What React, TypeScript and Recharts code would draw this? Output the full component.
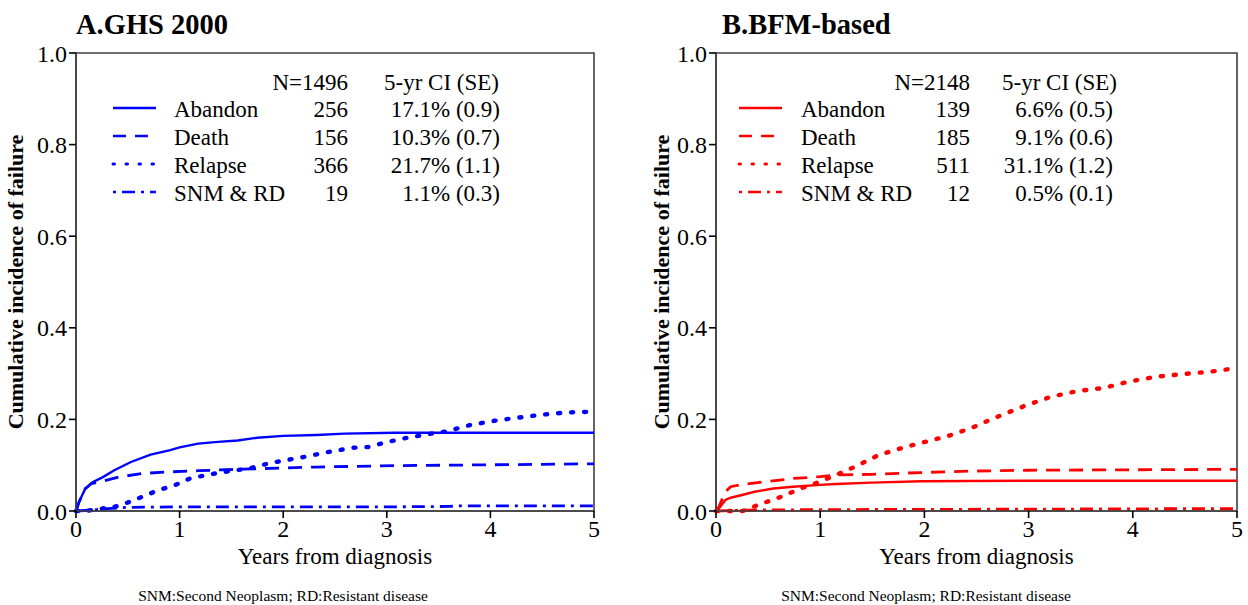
import React from "react";
import { LineChart, Line, XAxis, YAxis, ReferenceArea, Legend } from "recharts";

type Pt = { t: number; v: number };

const FONT = '"Liberation Serif", "Times New Roman", serif';
const FRAME = "#404040";

const YEAR_TICKS = [0, 1, 2, 3, 4, 5];
const CI_TICKS = [0, 0.2, 0.4, 0.6, 0.8, 1.0];
const EVENTS = ["Abandon", "Death", "Relapse", "SNM & RD"];

// GHS 2000 protocol
const GHS_N = 1496;
const GHS_COUNTS = [256, 156, 366, 19];
const GHS_CI5 = [17.1, 10.3, 21.7, 1.1];
const GHS_SE = [0.9, 0.7, 1.1, 0.3];

const GHS_ABANDON = [
  [0, 0], [0.03, 0.02], [0.09, 0.049], [0.16, 0.063], [0.26, 0.074], [0.37, 0.089],
  [0.53, 0.107], [0.72, 0.123], [0.91, 0.133], [1.0, 0.139], [1.18, 0.147],
  [1.37, 0.151], [1.56, 0.154], [1.75, 0.16], [2.0, 0.164], [2.32, 0.166],
  [2.59, 0.169], [3.08, 0.171], [5, 0.171],
];
const GHS_DEATH = [
  [0, 0], [0.03, 0.02], [0.09, 0.049], [0.15, 0.06], [0.26, 0.065], [0.41, 0.074],
  [0.64, 0.082], [0.87, 0.085], [1.18, 0.088], [1.56, 0.091], [2.0, 0.094],
  [2.32, 0.096], [3.08, 0.099], [4.04, 0.101], [5, 0.103],
];
const GHS_RELAPSE = [
  [0, 0], [0.1, 0], [0.15, 0.002], [0.3, 0.007], [0.41, 0.011], [0.53, 0.021],
  [0.64, 0.031], [0.79, 0.045], [0.95, 0.056], [1.1, 0.071], [1.29, 0.08],
  [1.48, 0.087], [1.67, 0.093], [1.86, 0.104], [2.05, 0.112], [2.2, 0.118],
  [2.44, 0.129], [2.67, 0.138], [2.84, 0.14], [2.97, 0.149], [3.2, 0.16],
  [3.43, 0.169], [3.58, 0.174], [3.81, 0.188], [4.04, 0.197], [4.27, 0.204],
  [4.53, 0.211], [4.73, 0.215], [5, 0.217],
];
const GHS_SNM = [
  [0, 0], [0.15, 0.002], [0.3, 0.005], [0.5, 0.008], [1.0, 0.009], [2.0, 0.009],
  [3.0, 0.009], [3.6, 0.01], [3.7, 0.011], [5, 0.011],
];

// BFM-based protocol
const BFM_N = 2148;
const BFM_COUNTS = [139, 185, 511, 12];
const BFM_CI5 = [6.6, 9.1, 31.1, 0.5];
const BFM_SE = [0.5, 0.6, 1.2, 0.1];

const BFM_ABANDON = [
  [0, 0], [0.03, 0.006], [0.09, 0.024], [0.14, 0.029], [0.25, 0.035], [0.37, 0.042],
  [0.55, 0.049], [0.74, 0.053], [1.0, 0.057], [1.15, 0.059], [1.49, 0.062],
  [1.97, 0.065], [2.98, 0.066], [5, 0.066],
];
const BFM_DEATH = [
  [0, 0], [0.03, 0.01], [0.09, 0.042], [0.14, 0.053], [0.25, 0.058], [0.48, 0.064],
  [0.74, 0.071], [1.0, 0.075], [1.19, 0.079], [1.49, 0.08], [1.97, 0.084],
  [2.42, 0.087], [2.98, 0.089], [5, 0.091],
];
const BFM_RELAPSE = [
  [0, 0], [0.25, 0], [0.29, 0.002], [0.4, 0.013], [0.59, 0.028], [0.81, 0.049],
  [1.0, 0.064], [1.11, 0.075], [1.26, 0.089], [1.38, 0.102], [1.56, 0.122],
  [1.79, 0.138], [2.01, 0.151], [2.23, 0.164], [2.46, 0.182], [2.68, 0.204],
  [2.98, 0.231], [3.21, 0.249], [3.47, 0.262], [3.73, 0.269], [3.95, 0.282],
  [4.22, 0.293], [4.48, 0.299], [4.74, 0.304], [4.93, 0.31], [5, 0.311],
];
const BFM_SNM = [
  [0, 0], [0.3, 0.002], [1.0, 0.003], [3.0, 0.004], [4.5, 0.005], [5, 0.005],
];

const toPts = (rows: number[][]): Pt[] => rows.map(([t, v]) => ({ t, v }));

// solid, dashed, dotted, dash-dot
const STROKES = [
  { dash: undefined, width: 2.4, cap: "butt" },
  { dash: "14 9", width: 2.8, cap: "butt" },
  { dash: "2 11", width: 4.4, cap: "round" },
  { dash: "13 6 3 6", width: 2.8, cap: "butt" },
] as const;
const SAMPLE_DASH = [undefined, "13 9", "1.5 11.5", "13 6 3 6"];
const SAMPLE_OFFSET = [0, 0, 0, 19];

type Cols = {
  sample: number;
  label: number;
  count: number;
  ci: number;
  head: number;
};

type PanelProps = {
  title: string;
  titleX: number;
  yLabelX: number;
  width: number;
  marginRight: number;
  color: string;
  n: number;
  counts: number[];
  ci5: number[];
  se: number[];
  series: Pt[][];
  cols: Cols;
  noteX: number;
};

function CiTable({ color, n, counts, ci5, se, cols, width }: any) {
  const txt = { fontFamily: FONT, fontSize: 23, fill: "#000" };
  return (
    <svg width={width} height={220} style={{ display: "block", overflow: "visible" }}>
      <text {...txt} x={cols.count} y={90} textAnchor="end">N={n}</text>
      <text {...txt} x={cols.head} y={90} textAnchor="end">5-yr CI (SE)</text>
      {EVENTS.map((ev, i) => {
        const cy = 109 + i * 28;
        const s = STROKES[i];
        return (
          <g key={ev}>
            <line
              x1={cols.sample}
              x2={cols.sample + 43}
              y1={cy - 1}
              y2={cy - 1}
              stroke={color}
              strokeWidth={i === 2 ? 3 : 2.4}
              strokeDasharray={SAMPLE_DASH[i]}
              strokeDashoffset={SAMPLE_OFFSET[i]}
              strokeLinecap={s.cap}
            />
            <text {...txt} x={cols.label} y={cy + 8}>{ev}</text>
            <text {...txt} x={cols.count} y={cy + 8} textAnchor="end">{counts[i]}</text>
            <text {...txt} x={cols.ci} y={cy + 8} textAnchor="end">
              {`${ci5[i].toFixed(1)}% (${se[i].toFixed(1)})`}
            </text>
          </g>
        );
      })}
    </svg>
  );
}

function Panel(p: PanelProps) {
  const H = 605;
  const tick = { fontFamily: FONT, fontSize: 24, fill: "#000" };
  return (
    <div style={{ position: "relative", width: p.width, height: H }}>
      <LineChart
        width={p.width}
        height={H}
        margin={{ top: 53, right: p.marginRight, bottom: 64, left: 0 }}
      >
        <XAxis
          dataKey="t"
          type="number"
          domain={[0, 5]}
          ticks={YEAR_TICKS}
          height={30}
          tick={tick}
          tickSize={7}
          tickMargin={2}
          stroke={FRAME}
          strokeWidth={1.6}
          tickLine={{ stroke: "#000", strokeWidth: 1.6 }}
          label={{
            content: ({ viewBox }: any) => (
              <text
                x={viewBox.x + viewBox.width / 2}
                y={viewBox.y + 53}
                textAnchor="middle"
                fontFamily={FONT}
                fontSize={23}
                fill="#000"
              >
                Years from diagnosis
              </text>
            ),
          }}
        />
        <YAxis
          type="number"
          domain={[0, 1]}
          ticks={CI_TICKS}
          width={76}
          tick={tick}
          tickSize={7}
          tickMargin={2}
          tickFormatter={(v: number) => v.toFixed(1)}
          stroke={FRAME}
          strokeWidth={1.6}
          tickLine={{ stroke: "#000", strokeWidth: 1.6 }}
          label={{
            content: ({ viewBox }: any) => {
              const cy = viewBox.y + viewBox.height / 2;
              return (
                <text
                  x={p.yLabelX}
                  y={cy}
                  transform={`rotate(-90, ${p.yLabelX}, ${cy})`}
                  textAnchor="middle"
                  fontFamily={FONT}
                  fontSize={22}
                  fontWeight="bold"
                  fill="#000"
                >
                  Cumulative incidence of failure
                </text>
              );
            },
          }}
        />
        <ReferenceArea
          x1={0}
          x2={5}
          y1={0}
          y2={1}
          fill="none"
          stroke={FRAME}
          strokeWidth={1.6}
        />
        {p.series.map((data, i) => (
          <Line
            key={EVENTS[i]}
            data={data}
            dataKey="v"
            type="linear"
            dot={false}
            activeDot={false}
            stroke={p.color}
            strokeWidth={STROKES[i].width}
            strokeDasharray={STROKES[i].dash}
            strokeLinecap={STROKES[i].cap}
            isAnimationActive={false}
          />
        ))}
        <Legend
          layout="vertical"
          align="center"
          verticalAlign="middle"
          wrapperStyle={{ left: 0, top: 0, width: p.width, pointerEvents: "none" }}
          content={() => (
            <CiTable
              color={p.color}
              n={p.n}
              counts={p.counts}
              ci5={p.ci5}
              se={p.se}
              cols={p.cols}
              width={p.width}
            />
          )}
        />
      </LineChart>
      <svg
        width={p.width}
        height={H}
        style={{ position: "absolute", left: 0, top: 0, pointerEvents: "none" }}
      >
        <text x={p.titleX} y={34} fontFamily={FONT} fontSize={28.5} fontWeight="bold" fill="#000">
          {p.title}
        </text>
        <text x={p.noteX} y={601} textAnchor="middle" fontFamily={FONT} fontSize={15.5} fill="#000">
          SNM:Second Neoplasm; RD:Resistant disease
        </text>
      </svg>
    </div>
  );
}

export default function App() {
  return (
    <div
      style={{
        position: "absolute",
        left: 0,
        top: 0,
        width: 1248,
        height: 605,
        background: "#fff",
        display: "flex",
      }}
    >
      <Panel
        title="A.GHS 2000"
        titleX={76}
        yLabelX={23}
        width={640}
        marginRight={46}
        color="#0000FF"
        n={GHS_N}
        counts={GHS_COUNTS}
        ci5={GHS_CI5}
        se={GHS_SE}
        series={[GHS_ABANDON, GHS_DEATH, GHS_RELAPSE, GHS_SNM].map(toPts)}
        cols={{ sample: 113, label: 174, count: 348, ci: 500, head: 499 }}
        noteX={283}
      />
      <Panel
        title="B.BFM-based"
        titleX={82}
        yLabelX={29}
        width={608}
        marginRight={11}
        color="#FF0000"
        n={BFM_N}
        counts={BFM_COUNTS}
        ci5={BFM_CI5}
        se={BFM_SE}
        series={[BFM_ABANDON, BFM_DEATH, BFM_RELAPSE, BFM_SNM].map(toPts)}
        cols={{ sample: 99, label: 161, count: 330, ci: 473, head: 477 }}
        noteX={286}
      />
    </div>
  );
}
